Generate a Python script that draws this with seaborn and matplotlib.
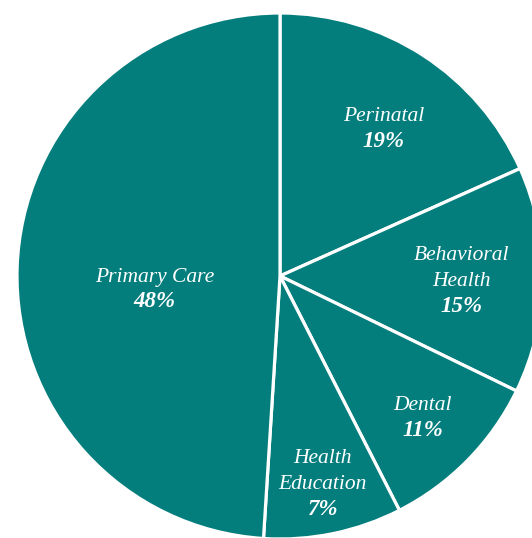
import numpy as np
import matplotlib
matplotlib.use("Agg")
import matplotlib.pyplot as plt
import seaborn as sns

categories = ["Perinatal", "Behavioral\nHealth", "Dental", "Health\nEducation", "Primary Care"]
shares = [18.3, 13.9, 10.3, 8.5, 49.0]
pct_labels = ["19%", "15%", "11%", "7%", "48%"]

sns.set_theme(style="white")
plt.rcParams['font.family'] = ['Liberation Serif', 'DejaVu Serif']

teal = "#047e7d"
label_radius = [0.69, 0.69, 0.76, 0.80, 0.48]
label_turn = [-2, 0, 0, 0, 7]  # degrees nudged off the wedge middle
fs = 15.5
step = 18.5  # points between baselines

fig = plt.figure(figsize=(5.32, 5.38), dpi=100)
ax = fig.add_axes([0, 0, 1, 1])

wedges, _ = ax.pie(shares, colors=[teal] * len(shares), startangle=90,
                   counterclock=False, radius=1.0,
                   wedgeprops=dict(edgecolor="white", linewidth=2.3))

for w, name, pct, r, turn in zip(wedges, categories, pct_labels, label_radius, label_turn):
    mid = np.deg2rad((w.theta1 + w.theta2) / 2 + turn)
    x, y = r * np.cos(mid), r * np.sin(mid)
    lines = name.split("\n") + [pct]
    n = len(lines)
    for i, line in enumerate(lines):
        dy = ((n - 1) / 2 - i) * step - 0.33 * fs
        last = i == n - 1
        ax.annotate(line, (x, y), xytext=(0, dy), textcoords="offset points",
                    ha="center", va="baseline", color="white",
                    fontsize=fs + 1 if last else fs,
                    style="italic", weight="bold" if last else "normal")

# centre sits at (280, 276) px with a 263 px radius; the right side is cut off
ax.set_xlim(-280 / 263, (532 - 280) / 263)
ax.set_ylim(-(538 - 276) / 263, 276 / 263)
ax.set_aspect("equal")
ax.axis("off")

fig.savefig("out.png", dpi=100, facecolor="white")
